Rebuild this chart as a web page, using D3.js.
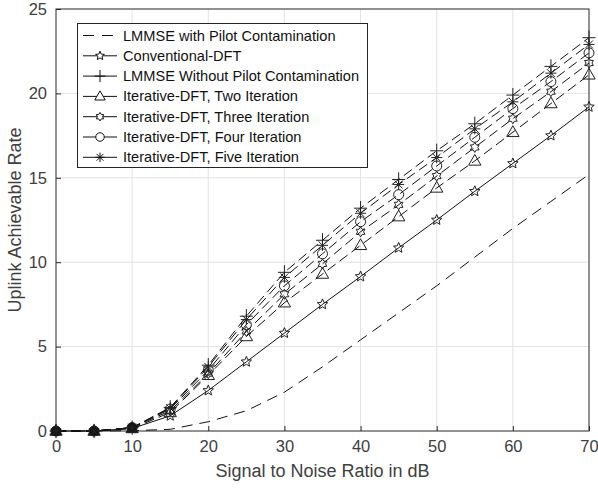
<!DOCTYPE html>
<html>
<head>
<meta charset="utf-8">
<script src="https://cdn.jsdelivr.net/npm/d3@7"></script>
<style>
  body { margin: 0; background: #fff; }
  text { font-family: "Liberation Sans", Arial, sans-serif; }
</style>
</head>
<body>
<svg id="chart" width="598" height="488"></svg>
<script>
// SNR points (dB)
var snr = [0, 5, 10, 15, 20, 25, 30, 35, 40, 45, 50, 55, 60, 65, 70];

// rates
var lmmseWith  = [0, 0, 0.02, 0.1, 0.55, 1.2, 2.3, 3.8, 5.4, 7.0, 8.6, 10.3, 12.0, 13.6, 15.2];
var convDft    = [0, 0, 0.15, 0.9, 2.4, 4.1, 5.8, 7.5, 9.15, 10.85, 12.5, 14.2, 15.85, 17.5, 19.2];
var lmmseNo    = [0, 0, 0.2, 1.4, 3.9, 6.8, 9.4, 11.3, 13.2, 14.9, 16.6, 18.2, 19.9, 21.6, 23.3];
var iterTwo    = [0, 0, 0.15, 1.1, 3.3, 5.6, 7.6, 9.3, 11.0, 12.7, 14.4, 16.0, 17.7, 19.4, 21.1];
var iterThree  = [0, 0, 0.2, 1.2, 3.4, 5.9, 8.1, 9.9, 11.8, 13.4, 15.1, 16.8, 18.5, 20.1, 21.8];
var iterFour   = [0, 0, 0.2, 1.3, 3.6, 6.3, 8.6, 10.5, 12.4, 14.0, 15.7, 17.4, 19.1, 20.7, 22.4];
var iterFive   = [0, 0, 0.2, 1.35, 3.8, 6.6, 9.1, 11.0, 12.9, 14.6, 16.2, 17.9, 19.5, 21.2, 22.9];

var xTicks = [0, 10, 20, 30, 40, 50, 60, 70];
var yTicks = [0, 5, 10, 15, 20, 25];

var series = [
  {name: 'LMMSE with Pilot Contamination', values: lmmseWith, marker: null, dash: '11,7'},
  {name: 'Conventional-DFT', values: convDft, marker: 'pentagram', dash: null},
  {name: 'LMMSE Without Pilot Contamination', values: lmmseNo, marker: 'plus', dash: '10,5'},
  {name: 'Iterative-DFT, Two Iteration', values: iterTwo, marker: 'triangle', dash: '10,5'},
  {name: 'Iterative-DFT, Three Iteration', values: iterThree, marker: 'hexagram', dash: '10,5'},
  {name: 'Iterative-DFT, Four Iteration', values: iterFour, marker: 'circle', dash: '10,5'},
  {name: 'Iterative-DFT, Five Iteration', values: iterFive, marker: 'asterisk', dash: '10,5'}
];

var svg = d3.select('#chart');
var pL = 56, pR = 589, pT = 9, pB = 431;

var x = d3.scaleLinear().domain([0, 70]).range([pL, pR]);
var y = d3.scaleLinear().domain([0, 25]).range([pB, pT]);

// grid
svg.append('g').selectAll('line').data(xTicks.slice(1, -1)).join('line')
  .attr('x1', d => x(d)).attr('x2', d => x(d)).attr('y1', pT).attr('y2', pB)
  .attr('stroke', '#e3e3e3').attr('stroke-width', 1);
svg.append('g').selectAll('line').data(yTicks.slice(1, -1)).join('line')
  .attr('y1', d => y(d)).attr('y2', d => y(d)).attr('x1', pL).attr('x2', pR)
  .attr('stroke', '#e3e3e3').attr('stroke-width', 1);

// axes
var xAxis = svg.append('g').attr('transform', 'translate(0,' + pB + ')')
  .call(d3.axisBottom(x).tickValues(xTicks).tickSizeInner(-5).tickSizeOuter(0).tickPadding(9));
var yAxis = svg.append('g').attr('transform', 'translate(' + pL + ',0)')
  .call(d3.axisLeft(y).tickValues(yTicks).tickSizeInner(-5).tickSizeOuter(0).tickPadding(9));
[xAxis, yAxis].forEach(function(ax) {
  ax.select('.domain').remove();
  ax.selectAll('line').attr('stroke', '#262626');
  ax.selectAll('text').attr('fill', '#404040').style('font-size', '16.5px');
});
// axes box
svg.append('rect')
  .attr('x', pL).attr('y', pT).attr('width', pR - pL).attr('height', pB - pT)
  .attr('fill', 'none').attr('stroke', '#262626');

// marker shapes
function markerPath(type, r) {
  var p = d3.path(), i, a;
  if (type === 'pentagram' || type === 'hexagram') {
    var n = type === 'pentagram' ? 5 : 6;
    var ri = type === 'pentagram' ? r * 0.45 : r * 0.6;
    for (i = 0; i < n * 2; i++) {
      a = -Math.PI / 2 + i * Math.PI / n;
      var rr = i % 2 ? ri : r;
      if (i === 0) p.moveTo(rr * Math.cos(a), rr * Math.sin(a));
      else p.lineTo(rr * Math.cos(a), rr * Math.sin(a));
    }
    p.closePath();
  } else if (type === 'triangle') {
    p.moveTo(0, -r);
    p.lineTo(r * 0.95, r * 0.65);
    p.lineTo(-r * 0.95, r * 0.65);
    p.closePath();
  } else if (type === 'circle') {
    p.moveTo(r, 0);
    p.arc(0, 0, r, 0, 2 * Math.PI);
  } else if (type === 'plus') {
    p.moveTo(-r, 0); p.lineTo(r, 0);
    p.moveTo(0, -r * 1.1); p.lineTo(0, r * 1.1);
  } else if (type === 'asterisk') {
    p.moveTo(-r, 0); p.lineTo(r, 0);
    p.moveTo(0, -r); p.lineTo(0, r);
    var d = r * 0.72;
    p.moveTo(-d, -d); p.lineTo(d, d);
    p.moveTo(-d, d); p.lineTo(d, -d);
  }
  return p.toString();
}

var markerR = {pentagram: 5.5, hexagram: 5, triangle: 6.5, circle: 5, plus: 6.5, asterisk: 5.5};

var line = d3.line().x((d, i) => x(snr[i])).y(d => y(d));

var plot = svg.append('g');
series.forEach(function(s) {
  plot.append('path').datum(s.values)
    .attr('d', line)
    .attr('fill', 'none').attr('stroke', '#111').attr('stroke-width', 1)
    .attr('stroke-dasharray', s.dash);
  if (s.marker) {
    plot.append('g').selectAll('path').data(s.values).join('path')
      .attr('transform', (d, i) => 'translate(' + x(snr[i]) + ',' + y(d) + ')')
      .attr('d', markerPath(s.marker, markerR[s.marker]))
      .attr('fill', (d, i) => snr[i] <= 10 ? '#111' : 'none')
      .attr('stroke', '#222').attr('stroke-width', 1);
  }
});

// legend
var lg = svg.append('g');
lg.append('rect').attr('x', 77.5).attr('y', 23.5).attr('width', 290).attr('height', 144)
  .attr('fill', '#fff').attr('stroke', '#262626');
series.forEach(function(s, i) {
  var cy = 35.5 + i * 20.3;
  lg.append('line').attr('x1', 83).attr('x2', 117).attr('y1', cy).attr('y2', cy)
    .attr('stroke', '#111').attr('stroke-dasharray', s.marker ? null : '11,8');
  if (s.marker) {
    lg.append('path').attr('transform', 'translate(100,' + cy + ')')
      .attr('d', markerPath(s.marker, markerR[s.marker] * 0.85))
      .attr('fill', '#fff').attr('stroke', '#111');
  }
  lg.append('text').attr('x', 123).attr('y', cy + 5).text(s.name)
    .style('font-size', '14.6px').attr('fill', '#111');
});

// axis labels
svg.append('text').attr('x', (pL + pR) / 2).attr('y', 477).attr('text-anchor', 'middle')
  .style('font-size', '18px').attr('fill', '#404040').text('Signal to Noise Ratio in dB');
svg.append('text').attr('transform', 'translate(21,' + ((pT + pB) / 2) + ') rotate(-90)')
  .attr('text-anchor', 'middle')
  .style('font-size', '18px').attr('fill', '#404040').text('Uplink Achievable Rate');
</script>
</body>
</html>
